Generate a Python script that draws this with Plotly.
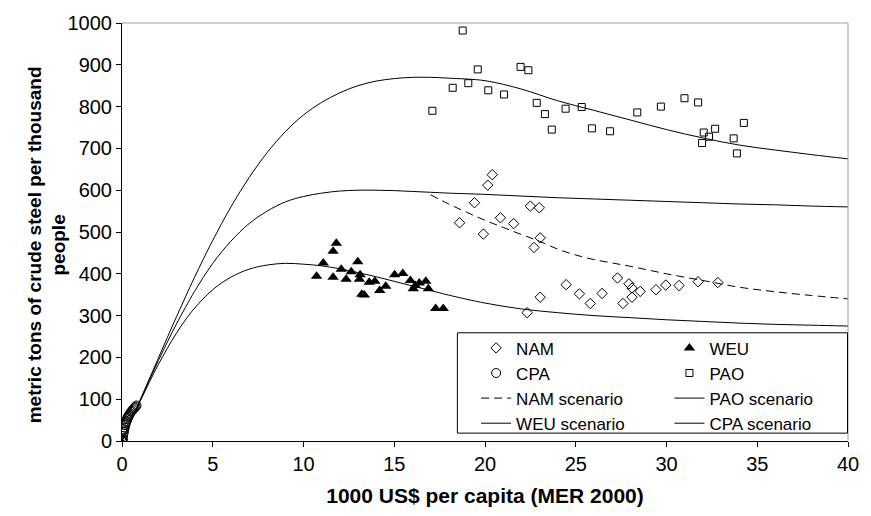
import plotly.graph_objects as go

# ---------------- data ----------------
nam_x = [20.4, 20.15, 19.42, 18.6, 19.91, 20.85, 21.58, 22.5, 22.99, 23.04, 22.7, 23.04, 22.32,
         24.47, 25.2, 25.8, 26.45, 27.3, 27.93, 28.1, 28.1, 27.6, 28.55, 29.42, 29.96, 30.69, 31.74, 32.83]
nam_y = [637, 612, 570, 522, 495, 534, 520, 562, 558, 486, 463, 344, 307,
         374, 352, 329, 353, 390, 376, 366, 344, 329, 358, 362, 373, 372, 381, 379]

weu_x = [11.81, 11.63, 11.09, 12.99, 10.72, 11.63, 12.08, 12.63, 12.35, 13.12, 13.08, 13.62, 13.93, 13.21,
         13.35, 14.2, 14.53, 15.02, 15.47, 15.89, 16.05, 16.16, 16.38, 16.74, 16.88, 17.28, 17.7]
weu_y = [473, 454, 426, 429, 394, 392, 411, 405, 387, 398, 387, 380, 382, 351,
         349, 360, 370, 398, 401, 384, 364, 372, 378, 382, 364, 317, 317]

cpa_x = [0.0, 0.01, 0.02, 0.03, 0.04, 0.06, 0.08, 0.1, 0.12, 0.15, 0.18, 0.2, 0.22, 0.25, 0.28,
         0.3, 0.33, 0.36, 0.4, 0.45, 0.5, 0.55, 0.6, 0.65, 0.7, 0.75, 0.8]
cpa_y = [0, 1, 2, 4, 6, 12, 18, 22, 28, 32, 38, 42, 45, 48, 52,
         55, 58, 60, 63, 66, 70, 72, 75, 78, 80, 82, 85]

pao_x = [17.10, 18.22, 18.77, 19.08, 19.60, 20.18, 21.05, 21.96, 22.39, 22.85, 23.30, 23.68, 24.44,
         25.33, 25.89, 26.89, 28.39, 29.69, 30.99, 31.74, 32.68, 32.05, 32.34, 31.96, 34.26, 33.70, 33.88]
pao_y = [790, 845, 982, 856, 889, 839, 829, 895, 887, 809, 782, 745, 795,
         799, 748, 741, 786, 800, 820, 810, 747, 738, 728, 713, 761, 724, 688]

# scenario curves, read at these x positions
curve_x = [0, 0.5, 1, 1.5, 2, 2.5, 3, 3.5, 4, 5, 6, 7, 8, 9, 10, 11, 12, 13, 14, 15, 16, 17, 18,
           20, 22, 24, 26, 28, 30, 32, 34, 36, 38, 40]
pao_curve = [0, 48, 98, 148, 198, 248, 297, 345, 392, 480, 560, 630, 690, 740, 780, 810, 833, 850,
             861, 867, 870, 870, 868, 862, 842, 814, 791, 768, 745, 725, 708, 696, 685, 675]
cpa_curve = [0, 48, 97, 145, 192, 237, 280, 320, 358, 425, 478, 520, 550, 572, 585, 593, 598, 600,
             600, 599, 597, 595, 593, 590, 586, 582, 579, 576, 573, 570, 567, 565, 562, 560]
weu_curve = [0, 47, 95, 140, 183, 222, 258, 290, 318, 362, 392, 411, 421, 425, 423, 419, 412, 403,
             393, 382, 371, 360, 349, 330, 316, 307, 300, 295, 290, 286, 282, 279, 277, 275]

nam_curve_x = [17, 18, 19, 20, 21, 22, 23, 24, 25, 26, 27, 28, 30, 32, 34, 36, 38, 40]
nam_curve = [589, 567, 547, 528, 511, 494, 478, 459, 445, 434, 426, 418, 400, 384, 368, 357, 348, 340]

x_ticks = [0, 5, 10, 15, 20, 25, 30, 35, 40]
y_ticks = [0, 100, 200, 300, 400, 500, 600, 700, 800, 900, 1000]

FONT = "Liberation Sans, Arial, sans-serif"

fig = go.Figure()

# column 1 of the legend: NAM, CPA, NAM scenario, WEU scenario
# column 2 of the legend: WEU, PAO, PAO scenario, CPA scenario
fig.add_trace(go.Scatter(x=nam_x, y=nam_y, mode="markers", name="NAM", legend="legend",
                         marker=dict(symbol="diamond-open", size=8, color="black", line=dict(width=1))))
fig.add_trace(go.Scatter(x=weu_x, y=weu_y, mode="markers", name="WEU", legend="legend2",
                         marker=dict(symbol="triangle-up", size=10, color="black", line=dict(width=0))))
fig.add_trace(go.Scatter(x=cpa_x, y=cpa_y, mode="markers", name="CPA", legend="legend",
                         marker=dict(symbol="circle-open", size=9, color="black", line=dict(width=1))))
fig.add_trace(go.Scatter(x=pao_x, y=pao_y, mode="markers", name="PAO", legend="legend2",
                         marker=dict(symbol="square-open", size=7, color="black", line=dict(width=1))))
fig.add_trace(go.Scatter(x=nam_curve_x, y=nam_curve, mode="lines", name="NAM scenario", legend="legend",
                         line=dict(color="black", width=1, dash="8px,5px", shape="spline")))
fig.add_trace(go.Scatter(x=curve_x, y=pao_curve, mode="lines", name="PAO scenario", legend="legend2",
                         line=dict(color="black", width=1, shape="spline")))
fig.add_trace(go.Scatter(x=curve_x, y=weu_curve, mode="lines", name="WEU scenario", legend="legend",
                         line=dict(color="black", width=1, shape="spline")))
fig.add_trace(go.Scatter(x=curve_x, y=cpa_curve, mode="lines", name="CPA scenario", legend="legend2",
                         line=dict(color="black", width=1, shape="spline")))

L, R, T, B = 122, 13, 18, 73
W, H = 871, 516
pw, ph = W - L - R, H - T - B

def px_x(p):
    return (p - L) / pw

def px_y(p):
    return (H - B - p) / ph

legend_common = dict(orientation="v", xanchor="left", yanchor="top", y=px_y(330.5),
                     bgcolor="rgba(0,0,0,0)", borderwidth=0, traceorder="normal",
                     font=dict(family=FONT, size=17, color="black"))

fig.update_layout(
    width=W, height=H,
    margin=dict(l=L, r=R, t=T, b=B, pad=0),
    paper_bgcolor="white", plot_bgcolor="white",
    font=dict(family=FONT, size=20, color="black"),
    showlegend=True,
    legend=dict(x=px_x(481), **legend_common),
    legend2=dict(x=px_x(677), **legend_common),
    xaxis=dict(range=[0, 40], tickvals=x_ticks, ticktext=[str(v) for v in x_ticks],
               showgrid=False, zeroline=False, showline=True, linecolor="black", linewidth=1,
               ticks="outside", ticklen=5, tickcolor="black", tickfont=dict(size=20),
               title=dict(text="<b>1000 US$ per capita (MER 2000)</b>", font=dict(size=21), standoff=14)),
    yaxis=dict(range=[0, 1000], tickvals=y_ticks, ticktext=[str(v) for v in y_ticks],
               showgrid=False, zeroline=False, showline=True, linecolor="black", linewidth=1,
               ticks="outside", ticklen=5, tickcolor="black", tickfont=dict(size=20)),
    shapes=[
        dict(type="line", xref="paper", yref="paper", x0=0, x1=1, y0=1, y1=1,
             line=dict(color="#a0a0a0", width=1)),
        dict(type="line", xref="paper", yref="paper", x0=1, x1=1, y0=0, y1=1,
             line=dict(color="#a0a0a0", width=1)),
        dict(type="rect", xref="paper", yref="paper", x0=px_x(462), x1=px_x(857.5),
             y0=px_y(435), y1=px_y(333), line=dict(color="black", width=1), fillcolor="rgba(0,0,0,0)"),
    ],
    annotations=[
        dict(text="<b>metric tons of crude steel per thousand<br>people</b>", textangle=-90,
             xref="paper", yref="paper", x=px_x(46), y=px_y(244), xanchor="center", yanchor="middle",
             showarrow=False, font=dict(family=FONT, size=19, color="black")),
    ],
)

fig.write_html("out.html")
